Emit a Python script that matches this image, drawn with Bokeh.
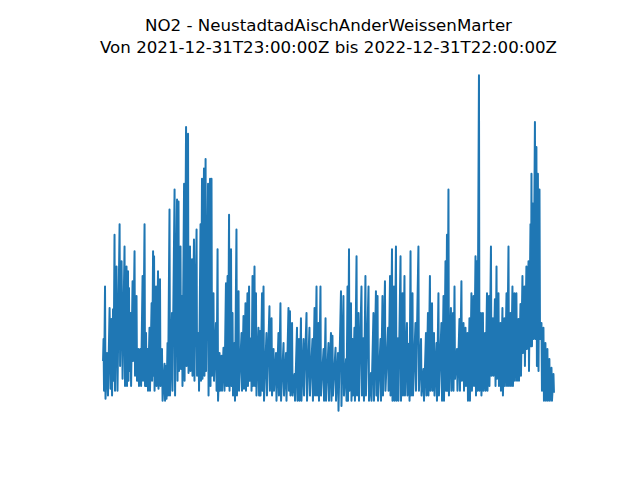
from bokeh.plotting import figure
from bokeh.models import Range1d, Title
from bokeh.embed import file_html
from bokeh.resources import INLINE

day = [
    0, 0.4, 0.8, 1.6, 2.0, 3.2, 4.0, 5.3, 6.1, 6.9, 7.3, 8.1, 8.5, 9.3, 9.7, 10.9, 11.7, 13.4, 13.8,
    15.0, 15.8, 17.4, 17.8, 19.0, 19.4, 20.2, 20.6, 21.0, 21.4, 22.3, 22.7, 23.9, 24.3, 25.5, 25.9,
    27.1, 27.5, 28.7, 29.1, 30.3, 30.8, 32.0, 32.4, 33.6, 34.0, 34.8, 35.2, 36.0, 36.4, 37.6, 38.0,
    39.3, 39.7, 40.5, 40.9, 41.3, 41.7, 42.9, 43.3, 44.5, 44.9, 46.1, 46.5, 47.7, 48.2, 49.8, 50.2,
    51.0, 51.4, 52.2, 52.6, 53.8, 54.2, 55.8, 56.2, 57.9, 58.3, 59.9, 60.3, 61.1, 61.5, 62.7, 63.1,
    63.9, 64.3, 65.6, 66.0, 67.2, 67.6, 68.8, 69.2, 70.4, 70.8, 72.0, 72.4, 73.6, 74.0, 75.7, 76.1,
    77.3, 77.7, 78.9, 79.3, 80.1, 80.5, 81.7, 82.1, 83.0, 83.4, 85.0, 85.4, 86.6, 87.0, 87.8, 88.2,
    89.4, 89.8, 91.4, 91.9, 92.7, 93.1, 94.3, 94.7, 95.9, 96.3, 97.5, 98.3, 99.5, 99.9, 100.8, 101.2,
    102.0, 102.4, 103.6, 104.0, 104.8, 105.2, 106.4, 106.8, 108.0, 108.4, 109.7, 110.1, 112.1, 112.5,
    113.7, 114.1, 115.3, 115.7, 116.9, 117.3, 118.2, 118.6, 119.8, 120.2, 121.0, 121.4, 122.6, 123.0,
    123.8, 124.2, 125.8, 126.3, 127.1, 127.5, 128.7, 129.1, 129.9, 130.3, 132.3, 132.7, 134.7, 135.1,
    136.4, 136.8, 138.0, 138.4, 140.0, 140.4, 142.0, 142.4, 143.6, 144.1, 146.1, 146.5, 148.1, 148.5,
    150.1, 150.5, 151.3, 151.7, 153.0, 153.4, 155.0, 155.4, 157.0, 157.4, 158.6, 159.0, 160.2, 160.6,
    162.3, 162.7, 164.7, 165.1, 167.1, 167.5, 169.5, 169.9, 171.2, 171.6, 172.8, 173.2, 174.4, 174.8,
    176.0, 176.4, 178.5, 178.9, 180.1, 180.5, 182.5, 182.9, 184.5, 184.9, 185.7, 186.1, 188.2, 188.6,
    190.2, 190.6, 192.6, 193.0, 194.6, 195.0, 196.7, 197.1, 197.9, 198.3, 199.1, 199.5, 200.7, 201.1,
    201.9, 202.3, 203.5, 203.9, 205.2, 205.6, 206.8, 207.2, 209.2, 209.6, 210.8, 211.2, 212.4, 212.8,
    214.9, 215.3, 216.9, 217.3, 218.9, 219.3, 220.9, 221.3, 222.2, 222.6, 224.6, 225.0, 226.2, 226.6,
    228.2, 228.6, 230.7, 231.1, 232.3, 232.7, 233.9, 234.3, 235.5, 235.9, 237.1, 237.5, 238.7, 239.1,
    240.8, 241.2, 242.4, 242.8, 244.0, 244.4, 246.0, 246.4, 247.6, 248.1, 248.9, 249.3, 250.5, 250.9,
    252.9, 253.3, 255.3, 255.7, 257.4, 257.8, 259.4, 259.8, 261.4, 261.8, 263.0, 263.4, 264.6, 265.0,
    266.3, 266.7, 267.9, 268.3, 269.9, 270.3, 271.5, 271.9, 273.9, 274.4, 275.6, 276.0, 277.2, 277.6,
    278.4, 278.8, 279.6, 280.0, 281.6, 282.0, 283.3, 283.7, 284.5, 284.9, 286.5, 286.9, 288.5, 288.9,
    290.1, 290.5, 291.8, 292.2, 293.4, 293.8, 295.0, 295.4, 296.6, 297.0, 298.2, 298.6, 299.9, 300.3,
    301.5, 301.9, 302.7, 303.1, 304.3, 304.7, 305.9, 306.3, 307.5, 307.9, 309.2, 309.6, 310.8, 311.2,
    312.4, 312.8, 314.0, 314.4, 315.6, 316.0, 317.2, 317.7, 318.5, 318.9, 320.1, 320.5, 321.7, 322.1,
    323.3, 323.7, 324.9, 325.3, 326.6, 327.0, 328.2, 328.6, 329.8, 330.2, 331.4, 331.8, 333.0, 333.4,
    334.6, 335.1, 336.3, 336.7, 337.9, 338.3, 339.5, 339.9, 341.1, 341.5, 342.7, 343.1, 344.4, 344.8,
    346.0, 346.4, 346.8, 347.2, 348.0, 348.4, 349.6, 350.0, 350.8, 351.2, 352.0, 352.5, 353.3, 353.7,
    354.9, 355.3, 356.5, 356.9, 358.1, 358.5, 359.7, 360.1, 361.3, 361.7, 363.0, 363.4, 364.6, 365.0,
]
no2 = [
    12.5, 18, 5, 31.2, 3, 14.5, 3.8, 25.8, 5.5, 23, 3.8, 25.5, 7.5, 44.2, 5, 36.2, 5, 46.8, 11.2,
    37.5, 8, 41.2, 6.2, 36.2, 6.2, 35, 7.5, 30.8, 10, 24.5, 6.2, 32.5, 12.5, 40, 8.8,
    28.8, 7.5, 15.5, 6.2, 15.5, 6.2, 33.8, 7.5, 46.8, 6.2, 19.5, 6.2, 15.5, 5, 20.8, 5,
    27, 7.5, 40, 8.8, 38.8, 5, 31.2, 6.2, 35, 5.5, 33, 6.2, 15.5, 2.5, 11.8, 2.5,
    11.2, 3, 17, 3.8, 50.5, 3.8, 24.5, 5, 55.5, 3.8, 53, 7.5, 52.5, 10, 41.2, 10.5,
    28.8, 6.2, 57, 7.5, 71.2, 11.2, 69.5, 9.5, 41.2, 10, 38, 8.8, 43, 7.5, 45.5, 8.8,
    19.5, 5, 46.8, 7.5, 58.2, 8, 60.8, 8.8, 63.2, 10, 57, 3.8, 58.2, 6.2, 58.2, 8.8,
    29.5, 7.5, 22, 5, 40.5, 2.5, 14.5, 5, 13.8, 5, 15.8, 5, 32, 6.2, 33.8, 6.2,
    49.2, 5, 40.5, 6.2, 24.5, 3.8, 17, 2.5, 45.5, 3.8, 30, 5, 19.5, 5,
    23.8, 5.5, 27, 5, 29.5, 6.2, 31.2, 7.5, 18.2, 5, 33.8, 6.2, 36.2, 6.2,
    29.5, 3.8, 20.8, 3.8, 20, 3.8, 29.5, 5, 31.2, 2.5, 19.5, 3.8, 26.2, 5,
    23.2, 3.8, 15.5, 5, 14.5, 2.5, 19.5, 3.8, 27, 2.5, 17, 3.8, 14.5, 2.5,
    25.8, 5, 25, 3.8, 22, 3.8, 9.2, 2.5, 20.8, 2.5, 18, 2.5, 23.2, 2.5,
    18, 3.8, 24.5, 2.5, 20.8, 3.8, 18, 2.5, 25.8, 3.8, 31.2, 3.8, 22, 2.5,
    31.2, 3.8, 15.5, 2.5, 23.2, 2.5, 17, 2.5, 19.5, 2.5, 18.8, 3.8, 15.8, 2.5,
    14.5, 0, 30, 1.2, 28.8, 3.8, 13, 2.5, 31.2, 2.5, 40.5, 5, 27, 2.5,
    18, 3.8, 20.8, 2.5, 38.8, 3.8, 24.5, 2.5, 31.2, 3.8, 18.2, 2.5, 33.8, 3.8,
    31.2, 2.5, 9.5, 2.5, 24.5, 2.5, 30, 3.8, 28.8, 2.5, 18, 2.5, 28.8, 3.8,
    32.5, 5, 20.8, 5, 33.8, 3.8, 40.5, 2.5, 31.2, 2.5, 41.2, 2.5, 18.2, 2.5,
    38.8, 2.5, 29.5, 3.8, 33.8, 3.8, 22, 3.8, 16.8, 2.5, 40, 3.8, 29.5, 3.8,
    22, 5, 41.2, 5, 18, 3.8, 10.5, 2.5, 19.5, 3.8, 24.5, 3.8, 33.8, 5,
    27, 5, 19.5, 3.8, 17, 2.5, 29.5, 3.8, 22, 2.5, 28.8, 2.5, 37.5, 5,
    44.2, 5, 55.5, 3.8, 25.8, 5, 24.5, 5, 31.2, 8, 15.5, 5, 23, 5,
    32.5, 7.5, 22, 5, 20.8, 6.2, 19.5, 2.5, 23.2, 2.5, 29.5, 5, 28.8, 6.2,
    38.8, 3.8, 37.5, 5, 84.2, 5, 24.5, 3.8, 24.5, 5, 19.5, 5, 29.5, 5,
    28.8, 6.2, 41.2, 8.8, 23.2, 8.8, 28, 6.2, 36.2, 8, 29.5, 6.2, 22, 5,
    25.8, 3.8, 23.2, 6.2, 29.5, 6.2, 41.2, 6.2, 24.5, 6.2, 31.2, 6.2, 29.5, 7.5,
    29.5, 7.5, 23, 7.5, 26.8, 8.8, 33.8, 14.5, 31.2, 11.2, 36.2, 15.5, 37.5, 10,
    46.8, 16.2, 59.5, 16.2, 52, 18, 72.5, 18, 66.2, 11.2, 59.5, 10, 55.5, 18,
    22, 5, 20.8, 2.5, 17, 2.5, 15.5, 2.5, 13, 2.5, 10.8, 2.5, 9.2, 4.5,
]

title_line1 = "NO2 - NeustadtadAischAnderWeissenMarter"
title_line2 = "Von 2021-12-31T23:00:00Z bis 2022-12-31T22:00:00Z"

xmin, xmax = min(day), max(day)
ymin, ymax = min(no2), max(no2)
xpad = (xmax - xmin) * 0.05
ypad = (ymax - ymin) * 0.05

p = figure(width=624, height=464, output_backend="svg", toolbar_location=None,
           x_range=Range1d(xmin - xpad, xmax + xpad),
           y_range=Range1d(ymin - ypad, ymax + ypad),
           min_border_left=80, min_border_right=48, min_border_bottom=37, min_border_top=58)
p.line(day, no2, line_color="#1f77b4", line_width=2, line_join="round")

p.axis.visible = False
p.grid.visible = False
p.outline_line_color = None
p.background_fill_color = "white"
p.border_fill_color = "white"

common = dict(align="center", text_font="DejaVu Sans", text_font_size="16.67px",
              text_font_style="normal", text_color="black", offset=2)
t2 = Title(text=title_line2, standoff=3, **common)
t1 = Title(text=title_line1, standoff=0, **common)
p.title = None
p.add_layout(t2, "above")
p.add_layout(t1, "above")

open("out.html", "w").write(file_html(p, INLINE))
